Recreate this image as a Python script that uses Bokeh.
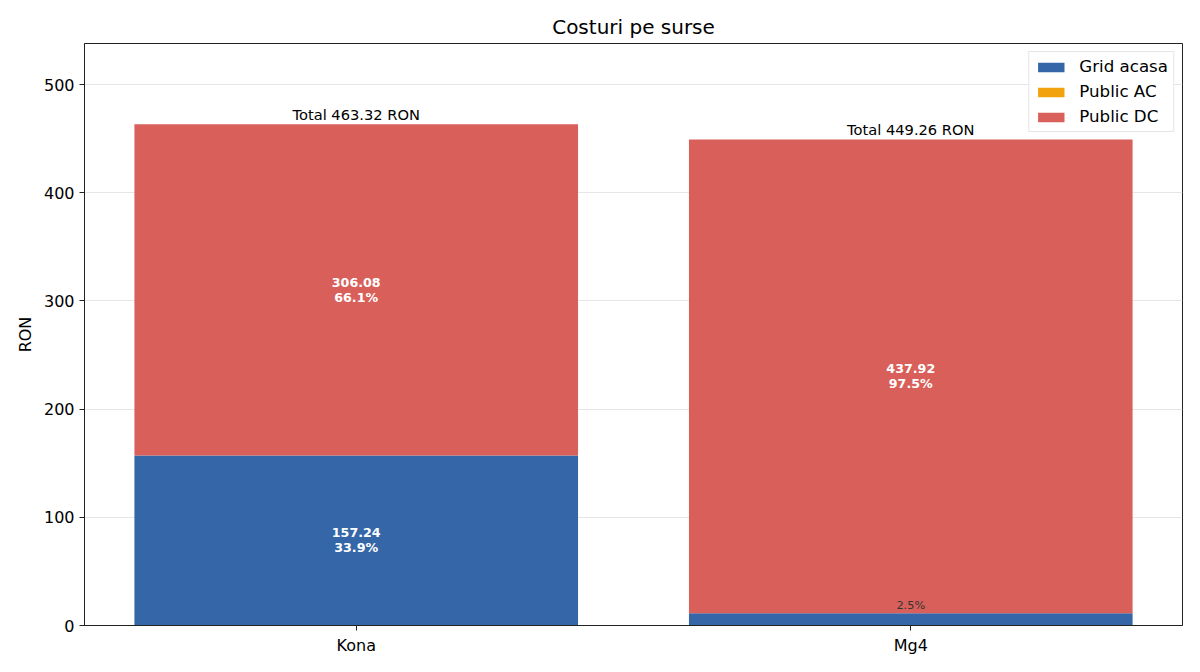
from bokeh.plotting import figure
from bokeh.models import ColumnDataSource, FixedTicker, Range1d, Legend, LegendItem
from bokeh.core.properties import value
from bokeh.embed import file_html
from bokeh.resources import INLINE

cars = ["Kona", "Mg4"]
grid_acasa = [157.24, 11.34]
public_ac = [0.0, 0.0]
public_dc = [306.08, 437.92]
series_names = ["Grid acasa", "Public AC", "Public DC"]
colors = ["#3567a8", "#f2a20c", "#d9605a"]

FONT = "DejaVu Sans"
xs = list(range(len(cars)))
totals = [g + a + d for g, a, d in zip(grid_acasa, public_ac, public_dc)]

p = figure(width=1200, height=672, output_backend="svg", toolbar_location=None,
           x_range=Range1d(-0.49, 1.49), y_range=Range1d(0, 538),
           min_border_left=84, min_border_right=18, min_border_top=43, min_border_bottom=47,
           title="Costuri pe surse")
p.title.align = "center"
p.title.text_font = FONT
p.title.text_font_size = "15pt"
p.title.text_font_style = "normal"
p.title.text_color = "#000000"

src = ColumnDataSource(dict(x=xs, g=grid_acasa, a=public_ac, d=public_dc))
renderers = p.vbar_stack(["g", "a", "d"], x="x", width=0.8, source=src,
                         color=colors, line_color=None)

legend = Legend(items=[LegendItem(label=n, renderers=[r]) for n, r in zip(series_names, renderers)],
                location="top_right")
legend.label_text_font = FONT
legend.label_text_font_size = "12.5pt"
legend.label_text_color = "black"
legend.glyph_width = 33
legend.glyph_height = 12
legend.label_height = 18
legend.label_standoff = 12
legend.spacing = 6
legend.padding = 5
legend.margin = 8
legend.border_line_color = "#cccccc"
legend.border_line_width = 1
legend.background_fill_alpha = 0.9
p.add_layout(legend)

# in-bar labels
lx, ly, lt = [], [], []
sx, sy, st = [], [], []
for i, x in enumerate(xs):
    bottom = 0.0
    for vals in (grid_acasa, public_ac, public_dc):
        v = vals[i]
        if v > 0:
            pct = 100.0 * v / totals[i]
            if pct >= 10:
                lx.append(x); ly.append(bottom + v / 2); lt.append(f"{v:.2f}\n{pct:.1f}%")
            else:
                sx.append(x); sy.append(bottom + v); st.append(f"{pct:.1f}%")
        bottom += v

p.text(x=lx, y=ly, text=lt, text_align="center", text_baseline="middle",
       text_color="white", text_font=value(FONT), text_font_style="bold",
       text_font_size="9.5pt", text_line_height=1.0)
p.text(x=sx, y=sy, text=st, text_align="center", text_baseline="bottom",
       text_color="#333333", text_font=value(FONT), text_font_size="8.5pt", y_offset=-1)
p.text(x=xs, y=totals, text=[f"Total {t:.2f} RON" for t in totals],
       text_align="center", text_baseline="bottom", text_color="black",
       text_font=value(FONT), text_font_size="11pt", y_offset=-1)

p.xaxis.ticker = FixedTicker(ticks=xs)
p.xaxis.major_label_overrides = {i: c for i, c in enumerate(cars)}
p.yaxis.ticker = FixedTicker(ticks=[0, 100, 200, 300, 400, 500])
p.yaxis.axis_label = "RON"
for ax in (p.xaxis, p.yaxis):
    ax.major_label_text_font = FONT
    ax.major_label_text_font_size = "12pt"
    ax.major_label_text_color = "black"
    ax.axis_line_color = "#222222"
    ax.major_tick_line_color = "#222222"
    ax.major_tick_out = 5
    ax.major_tick_in = 0
    ax.minor_tick_line_color = None
p.yaxis.axis_label_text_font = FONT
p.yaxis.axis_label_text_font_size = "12pt"
p.yaxis.axis_label_text_font_style = "normal"
p.yaxis.axis_label_text_color = "black"
p.yaxis.axis_label_standoff = 6
p.xgrid.grid_line_color = None
p.ygrid.grid_line_color = "#e6e6e6"
p.ygrid.grid_line_width = 1
p.outline_line_color = "#222222"
p.outline_line_width = 1
p.background_fill_color = "white"

open("out.html", "w").write(file_html(p, INLINE))
